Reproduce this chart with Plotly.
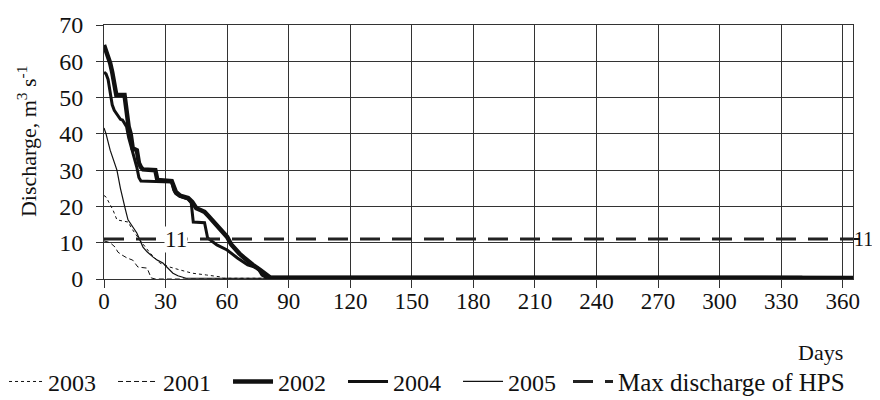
import plotly.graph_objects as go

# ---- data ----
d2003 = [0, 1, 4.4, 6.3, 11.7, 14, 17.5, 22.4, 27.2, 32, 37, 43, 50, 56.5, 58, 365]
q2003 = [23, 22.6, 19, 16.3, 15.7, 13.5, 10.7, 7.2, 4.4, 3.3, 2.5, 1.6, 1.1, 0.6, 0.2, 0.2]

d2001 = [0, 3, 5.4, 6.8, 8.8, 11.2, 14, 16.5, 21, 23, 25, 365]
q2001 = [10.5, 10, 8.8, 7.4, 6.6, 5.8, 5.2, 3.3, 3, 0.3, 0, 0]

d2002 = [0, 1, 2, 3, 4, 5, 6, 10, 11, 12, 13, 14, 16, 17, 18, 19, 25, 26, 33, 34, 35, 37, 41, 43,
         45, 47, 49, 51, 53, 55, 57, 59, 60, 62, 63, 66, 68, 70, 72.5, 76, 78, 81, 365]
q2002 = [64.5, 63, 61, 59.5, 57, 54, 50.7, 50.7, 45, 42, 40, 36, 35.5, 32, 30.8, 30.2, 30, 27.3, 27, 25, 24, 23, 22.3, 21.2,
         19.5, 19, 18.5, 17.3, 16, 14.5, 13.2, 12.2, 11.6, 9.5, 8.8, 7, 6, 5, 3.9, 2.5, 1.5, 0.4, 0.3]

d2004 = [0, 1, 2, 3, 4, 5, 7, 8, 9, 10, 11, 12, 13, 14, 15, 16, 17, 18, 33, 34, 35, 37, 41, 42.5, 43.5,
         49, 50.5, 55, 60, 65, 70, 75, 77, 79, 340, 341, 365]
q2004 = [57, 56.5, 55, 52, 48, 46.5, 45, 44, 43.8, 43, 42, 39, 37, 35.5, 33, 30.8, 28, 27, 26.7, 24.5, 23.5, 22.8, 22, 21, 15.7,
         15.5, 11.3, 9.4, 8, 5.8, 3.9, 3, 1.1, 0.5, 0.5, 0.2, 0.2]

d2005 = [0, 1, 3, 5, 6.3, 8, 9.2, 10.5, 11.7, 14, 16, 19, 21, 23.8, 26, 28.7, 31, 33.6, 36, 38.4, 40, 365]
q2005 = [41.6, 40, 35.5, 32, 30, 25, 21.8, 19, 16.3, 14.5, 12.7, 8.8, 7.5, 6.1, 5.2, 4.4, 3, 1.6, 0.9, 0.5, 0.2, 0.2]

hps_days = [0, 365]
hps_q = [11, 11]
hps_label = "11"

x_ticks = list(range(0, 361, 30))
y_ticks = list(range(0, 71, 10))

FONT = "Liberation Serif"
INK = "#111111"

fig = go.Figure()
fig.add_trace(go.Scatter(x=d2003, y=q2003, mode="lines", name="2003",
                         line=dict(color=INK, width=1, dash="dot")))
fig.add_trace(go.Scatter(x=d2001, y=q2001, mode="lines", name="2001",
                         line=dict(color=INK, width=1, dash="5px,3px")))
fig.add_trace(go.Scatter(x=d2002, y=q2002, mode="lines", name="2002",
                         line=dict(color=INK, width=4.5)))
fig.add_trace(go.Scatter(x=d2004, y=q2004, mode="lines", name="2004",
                         line=dict(color=INK, width=3)))
fig.add_trace(go.Scatter(x=d2005, y=q2005, mode="lines", name="2005",
                         line=dict(color=INK, width=1.2)))
fig.add_trace(go.Scatter(x=hps_days, y=hps_q, mode="lines", name="Max discharge of HPS",
                         yaxis="y2", legend="legend2",
                         line=dict(color="#222222", width=3, dash="20px,12px")))

fig.add_annotation(x=35, y=hps_q[0], xref="x", yref="y", text=hps_label, showarrow=False,
                   font=dict(family=FONT, size=23, color=INK), bgcolor="white", borderpad=0)
fig.add_annotation(x=1.029, y=hps_q[0], xref="paper", yref="y", text=hps_label, showarrow=False,
                   font=dict(family=FONT, size=20, color=INK), xanchor="right", yanchor="middle")
fig.add_annotation(x=0.956, y=-0.29, xref="paper", yref="paper", text="Days", showarrow=False,
                   font=dict(family=FONT, size=22, color=INK), xanchor="center", yanchor="middle")
fig.add_annotation(x=-0.1028, y=0.543, xref="paper", yref="paper",
                   text="Discharge, m<sup>3</sup> s<sup>-1</sup>", showarrow=False, textangle=-90,
                   font=dict(family=FONT, size=22, color=INK), xanchor="center", yanchor="middle")

# the page body adds an 8px offset, so the figure is 8px smaller than the window
fig.update_layout(
    width=872, height=392,
    margin=dict(l=96, r=27, t=17, b=121, autoexpand=False),
    paper_bgcolor="white", plot_bgcolor="white",
    font=dict(family=FONT, size=22, color=INK),
    showlegend=True,
    legend=dict(orientation="h", x=-0.1415, xanchor="left", y=-0.405, yanchor="middle",
                font=dict(family=FONT, size=24, color=INK), itemwidth=40, entrywidth=60,
                bgcolor="rgba(0,0,0,0)", tracegroupgap=0, traceorder="normal"),
    legend2=dict(orientation="h", x=0.6195, xanchor="left", y=-0.405, yanchor="middle",
                 font=dict(family=FONT, size=25, color=INK), itemwidth=40,
                 bgcolor="rgba(0,0,0,0)"),
    xaxis=dict(range=[0, 365], tickvals=x_ticks, showgrid=True, gridcolor="#333333", gridwidth=1,
               showline=True, linecolor="#333333", linewidth=1, mirror=True, automargin=False,
               ticks="outside", ticklen=8, tickcolor="#333333", zeroline=False,
               ticklabelstandoff=-7,
               tickfont=dict(family=FONT, size=23, color=INK)),
    yaxis=dict(range=[0, 70], tickvals=y_ticks, showgrid=True, gridcolor="#333333", gridwidth=1,
               showline=True, linecolor="#333333", linewidth=1, mirror=True, automargin=False,
               ticks="outside", ticklen=7, tickcolor="#333333", zeroline=False,
               ticklabelstandoff=8,
               tickfont=dict(family=FONT, size=24, color=INK)),
    yaxis2=dict(range=[0, 70], overlaying="y", side="right", tickvals=[11],
                showgrid=False, zeroline=False, showline=False, ticks="outside", ticklen=6,
                automargin=False, tickwidth=2, tickcolor=INK, showticklabels=False),
)

fig.write_html("out.html")
